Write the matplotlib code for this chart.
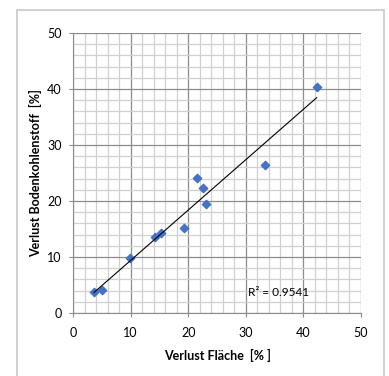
import numpy as np
import matplotlib.pyplot as plt
from matplotlib.patches import Rectangle

plt.rcParams['font.family'] = ['Lato', 'DejaVu Sans']

# measured values
flaeche = [3.65, 5.0, 9.95, 14.25, 15.35, 19.2, 21.55, 22.55, 23.15, 33.4, 42.3]
bodenc = [3.7, 4.05, 9.9, 13.55, 14.3, 15.2, 24.15, 22.4, 19.5, 26.4, 40.35]
r2_text = 'R² = 0.9541'

fig = plt.figure(figsize=(3.89, 3.76), dpi=100)
ax = fig.add_axes([73 / 389, 1 - 313 / 376, 288 / 389, 280 / 376])

# outer chart frame
fig.patches.append(Rectangle((17 / 389, -0.05), 367 / 389, 1.05 - 10 / 376,
                             transform=fig.transFigure, fill=False,
                             edgecolor='#c8c8c8', linewidth=1.2))

ax.set_xlim(0, 50)
ax.set_ylim(0, 50)
ax.set_xticks(np.arange(0, 51, 10))
ax.set_yticks(np.arange(0, 51, 10))
ax.set_xticks(np.arange(0, 51, 2), minor=True)
ax.set_yticks(np.arange(0, 51, 2), minor=True)
ax.grid(which='major', color='#8c8c8c', linewidth=0.9)
ax.grid(which='minor', color='#d0d0d0', linewidth=0.9)
ax.set_axisbelow(True)
ax.tick_params(which='minor', length=0)
ax.tick_params(which='major', length=3, color='#8c8c8c', labelsize=9)
ax.tick_params(axis='x', pad=7)
ax.tick_params(axis='y', pad=5)
for s in ax.spines.values():
    s.set_visible(False)
ax.spines['left'].set_visible(True)
ax.spines['bottom'].set_visible(True)
ax.spines['left'].set_color('#8c8c8c')
ax.spines['bottom'].set_color('#8c8c8c')

ax.scatter(flaeche, bodenc, marker='D', s=18, color='#4472c4', zorder=3)

k, d = np.polyfit(flaeche, bodenc, 1)
xs = np.array([min(flaeche), max(flaeche)])
ax.plot(xs, k * xs + d, color='black', linewidth=0.8, zorder=4)

ax.text(30.4, 3.7, r2_text, fontsize=8.5, va='center', ha='left')

ax.set_xlabel('Verlust Fläche  [% ]', fontsize=9, fontweight='bold', labelpad=7)
ax.set_ylabel('Verlust Bodenkohlenstoff  [%]', fontsize=9, fontweight='bold', labelpad=4)

fig.savefig('out.png', dpi=100)
